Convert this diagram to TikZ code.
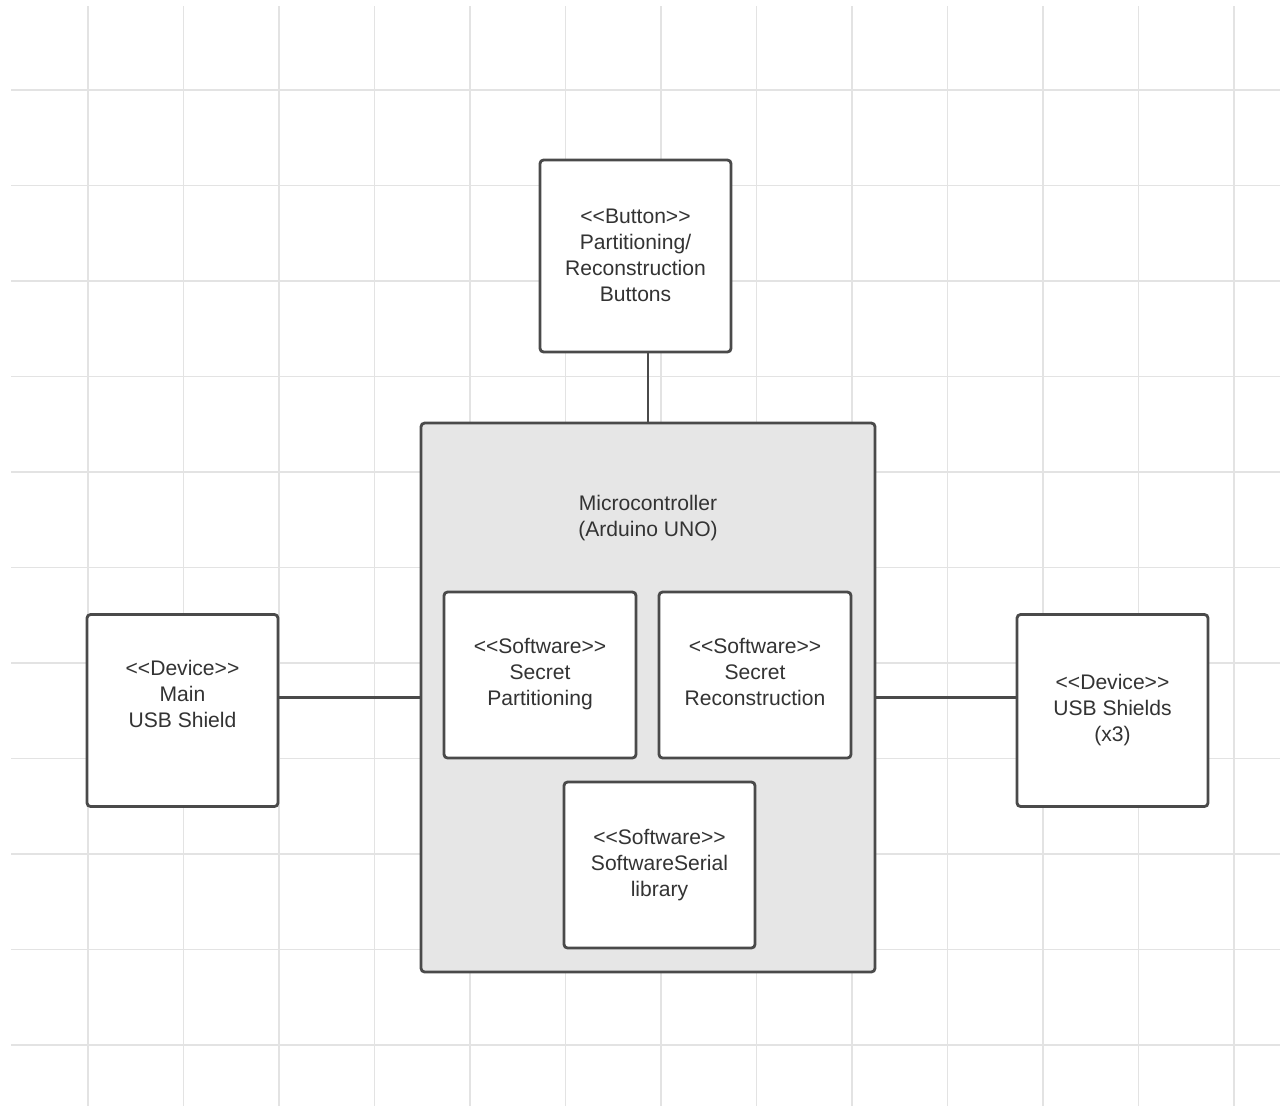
\documentclass[tikz,border=0pt]{standalone}
\usepackage{fontspec}
\setmainfont{Liberation Sans}[Ligatures=TeXOff]
\usepackage{xcolor}
\definecolor{UMLGrid}{HTML}{E3E3E3}
\definecolor{UMLEdge}{HTML}{4A4A4A}
\definecolor{UMLText}{HTML}{333333}
\definecolor{UMLFill}{HTML}{E6E6E6}
\newcommand{\stereo}[1]{<{}<#1>{}>}
\tikzset{
  umlbox/.style={draw=UMLEdge,line width=1.6pt,rounded corners=2pt,fill=white,
    minimum width=3.82cm,minimum height=3.84cm},
  mcubox/.style={umlbox,fill=UMLFill,minimum width=9.08cm,minimum height=10.98cm},
  umltext/.style={align=center,text=UMLText,font=\fontsize{12}{14.8}\selectfont,
    inner sep=0pt,text depth=2.6pt},
  umlline/.style={draw=UMLEdge,line width=1.4pt}
}

\begin{document}
\begin{tikzpicture}[x=0.02cm,y=-0.02cm]
\path[use as bounding box] (0,0) rectangle (1280,1106);
\fill[white] (0,0) rectangle (1280,1106);
\foreach \gx in {0,...,12}
  \draw[UMLGrid,line width=.8pt] (88+95.5*\gx,6) -- (88+95.5*\gx,1106);
\foreach \gy in {0,...,10}
  \draw[UMLGrid,line width=.8pt] (11,90+95.5*\gy) -- (1280,90+95.5*\gy);
\node[umlbox] (buttons) at (635.5,256) {};
\node[umltext] (buttonstext) at (635.5,257.5) {\stereo{Button}\\Partitioning/\\Reconstruction\\Buttons};
\node[mcubox] (mcu) at (648,697.5) {};
\node[umltext] (mcutitle) at (648,518) {Microcontroller\\(Arduino UNO)};
\node[umlbox,minimum width=3.84cm,minimum height=3.32cm] (partition) at (540,675) {};
\node[umltext] (partitiontext) at (540,674) {\stereo{Software}\\Secret\\Partitioning};
\node[umlbox,minimum width=3.84cm,minimum height=3.32cm] (reconstruct) at (755,675) {};
\node[umltext] (reconstructtext) at (755,674) {\stereo{Software}\\Secret\\Reconstruction};
\node[umlbox,minimum height=3.32cm] (serial) at (659.5,865) {};
\node[umltext] (serialtext) at (659.5,865) {\stereo{Software}\\SoftwareSerial\\library};
\node[umlbox] (mainusb) at (182.5,710.5) {};
\node[umltext] (mainusbtext) at (182.5,696) {\stereo{Device}\\Main\\USB Shield};
\node[umlbox] (shields) at (1112.5,710.5) {};
\node[umltext] (shieldstext) at (1112.5,710) {\stereo{Device}\\USB Shields\\(x3)};
\draw[umlline] (mcu.north) -- (mcu.north |- buttons.south);
\draw[umlline] (mcu.west) -- (mcu.west -| mainusb.east);
\draw[umlline] (mcu.east) -- (mcu.east -| shields.west);
\end{tikzpicture}
\end{document}
